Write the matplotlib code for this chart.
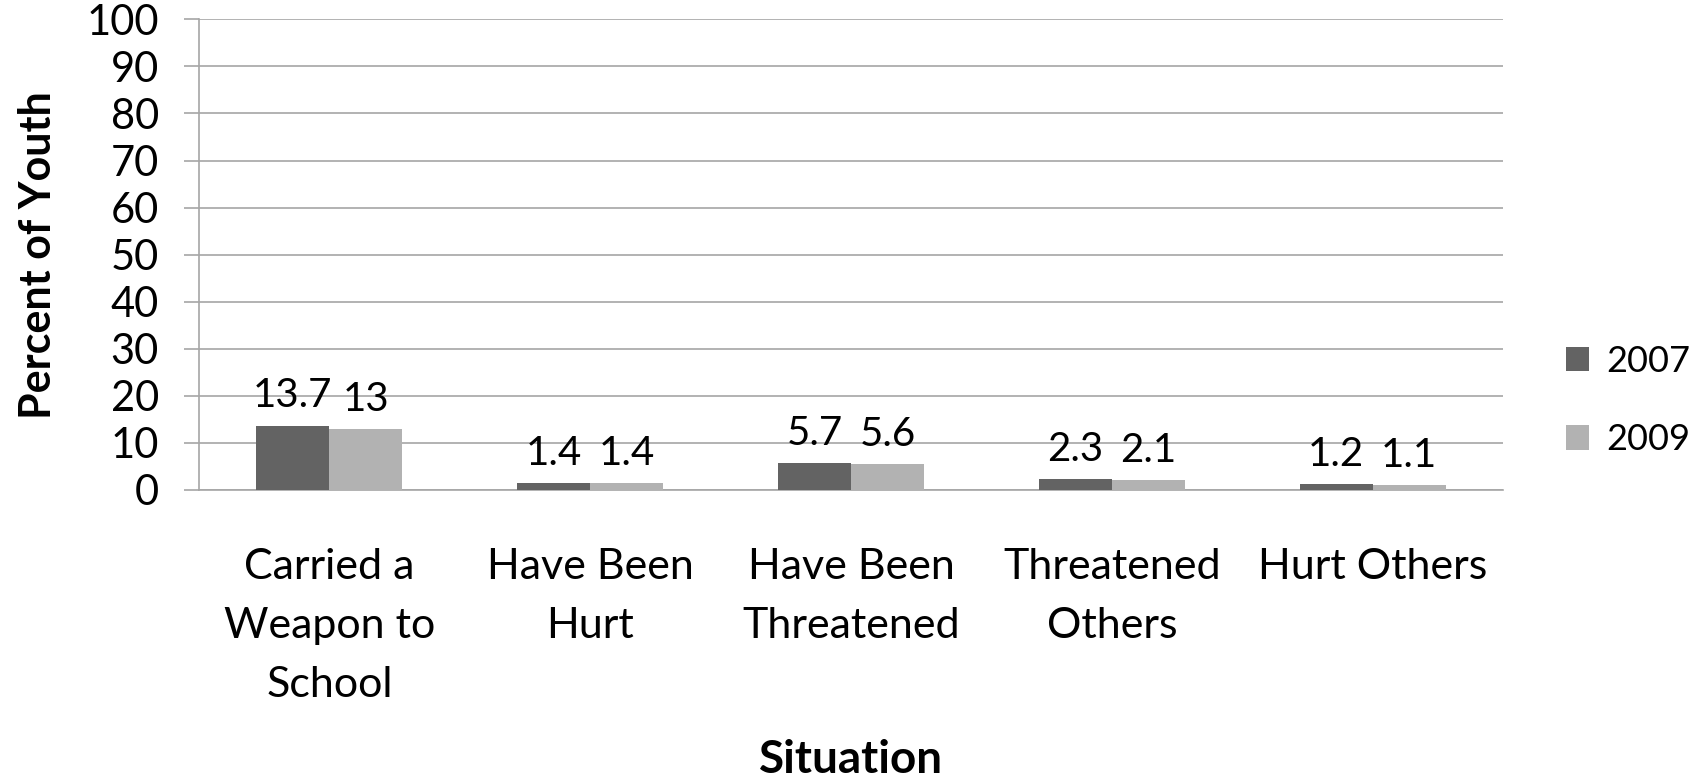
import matplotlib.pyplot as plt
import numpy as np

plt.rcParams['font.family'] = ['Lato', 'DejaVu Sans']

situations = ['Carried a\nWeapon to\nSchool', 'Have Been\nHurt', 'Have Been\nThreatened',
              'Threatened\nOthers', 'Hurt Others']
pct_2007 = [13.7, 1.4, 5.7, 2.3, 1.2]
pct_2009 = [13, 1.4, 5.6, 2.1, 1.1]
years = ['2007', '2009']
colors = ['#636363', '#b2b2b2']
grid_col = '#a6a6a6'

fig = plt.figure(figsize=(16.91, 7.81), dpi=100)
ax = fig.add_axes([0.1177, 0.3726, 0.7711, 0.6027])

x = np.arange(len(situations))
w = 0.28
b1 = ax.bar(x - w / 2, pct_2007, w, color=colors[0], label=years[0], zorder=3)
b2 = ax.bar(x + w / 2, pct_2009, w, color=colors[1], label=years[1], zorder=3)

for bars in (b1, b2):
    ax.bar_label(bars, labels=[f'{v:g}' for v in bars.datavalues], padding=8, fontsize=29)

ax.set_xlim(-0.5, len(situations) - 0.5)
ax.set_ylim(0, 100)
ax.set_yticks(np.arange(0, 101, 10))
ax.yaxis.grid(True, color=grid_col, linewidth=1.2, zorder=0)
ax.tick_params(axis='y', length=11, width=1.2, color=grid_col, labelsize=30, pad=18)
ax.tick_params(axis='x', length=0, labelsize=31, pad=42)
ax.set_xticks(x)
ax.set_xticklabels(situations, linespacing=1.68)

for s in ['top', 'right']:
    ax.spines[s].set_visible(False)
for s in ['left', 'bottom']:
    ax.spines[s].set_color(grid_col)
    ax.spines[s].set_linewidth(1.2)

ax.set_ylabel('Percent of Youth', fontsize=31, fontweight='bold', labelpad=20)
ax.set_xlabel('Situation', fontsize=33, fontweight='bold', labelpad=25)

ax.legend(loc='center left', bbox_to_anchor=(1.048, 0.19), frameon=False, fontsize=26,
          borderaxespad=0, borderpad=0,
          handlelength=0.66, handleheight=0.66, handletextpad=0.48, labelspacing=1.26)

fig.savefig('out.png', dpi=100)
